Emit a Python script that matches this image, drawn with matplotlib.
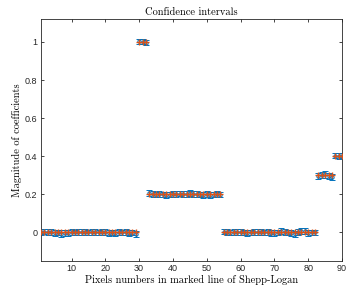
import numpy as np
import matplotlib
matplotlib.use("Agg")
import matplotlib.pyplot as plt

# pixel index along the marked line
pixels = np.arange(1, 91)

# true coefficient values
true_vals = [0, 0, 0, 0, 0, 0, 0, 0, 0, 0, 0, 0, 0, 0, 0, 0, 0, 0, 0, 0,
             0, 0, 0, 0, 0, 0, 0, 0, 0,
             1, 1, 1,
             0.2, 0.2, 0.2, 0.2, 0.2, 0.2, 0.2, 0.2, 0.2, 0.2, 0.2,
             0.2, 0.2, 0.2, 0.2, 0.2, 0.2, 0.2, 0.2, 0.2, 0.2, 0.2,
             0, 0, 0, 0, 0, 0, 0, 0, 0, 0, 0, 0, 0, 0,
             0, 0, 0, 0, 0, 0, 0, 0, 0, 0, 0, 0, 0, 0,
             0.3, 0.3, 0.3, 0.3, 0.3,
             0.4, 0.4, 0.4]

# estimated coefficients (centre of each interval)
estimates = [0.003, 0.004, 0.002, 0.001, -0.004, 0.000, -0.006, -0.002, -0.005, 0.003,
             0.000, 0.004, 0.002, 0.001, 0.000, 0.001, 0.002, 0.000, 0.001, 0.003,
             -0.002, 0.000, -0.004, 0.001, 0.000, 0.001, -0.002, -0.001, -0.008,
             1.003, 1.002, 0.996,
             0.206, 0.201, 0.199, 0.203, 0.200, 0.195, 0.199, 0.201, 0.203, 0.204, 0.202,
             0.200, 0.206, 0.201, 0.203, 0.199, 0.197, 0.200, 0.196, 0.198, 0.203, 0.199,
             0.004, 0.002, -0.001, 0.003, 0.002, 0.004, 0.001, -0.002, 0.000, 0.002,
             0.003, 0.003, 0.001, 0.004, -0.002, -0.003, 0.000, 0.008, 0.003, -0.001,
             -0.002, -0.007, 0.003, 0.006, 0.006, -0.002, 0.001, 0.000,
             0.298, 0.302, 0.305, 0.298, 0.292,
             0.402, 0.401, 0.403]

# half width of each interval
half_width = [0.015, 0.014, 0.015, 0.015, 0.016, 0.014, 0.017, 0.015, 0.016, 0.014,
              0.015, 0.015, 0.014, 0.015, 0.014, 0.015, 0.015, 0.014, 0.015, 0.015,
              0.015, 0.014, 0.016, 0.015, 0.014, 0.015, 0.015, 0.014, 0.017,
              0.013, 0.013, 0.014,
              0.015, 0.015, 0.014, 0.015, 0.014, 0.016, 0.015, 0.014, 0.015, 0.015, 0.014,
              0.015, 0.015, 0.016, 0.015, 0.014, 0.015, 0.015, 0.015, 0.014, 0.015, 0.015,
              0.014, 0.015, 0.015, 0.014, 0.015, 0.015, 0.014, 0.015, 0.015, 0.014,
              0.015, 0.015, 0.014, 0.015, 0.015, 0.016, 0.015, 0.016, 0.015, 0.015,
              0.016, 0.017, 0.015, 0.016, 0.015, 0.015, 0.014, 0.015,
              0.015, 0.016, 0.017, 0.015, 0.017,
              0.013, 0.014, 0.013]

blue = (0, 0.447, 0.741)
orange = (0.85, 0.325, 0.098)
axcol = (0.15, 0.15, 0.15)

fig = plt.figure(figsize=(3.48, 2.90), dpi=100)
ax = fig.add_axes([0.118, 0.10, 0.865, 0.834])

ax.errorbar(pixels, estimates, yerr=half_width, fmt='o', color=blue, ms=2.4,
            mfc='none', mew=0.7, elinewidth=1.0, capsize=2.2, capthick=1.0,
            zorder=2)
ax.plot(pixels, true_vals, '+', color=orange, ms=5, mew=1.0, zorder=3)

ax.set_xlim(1, 90)
ax.set_ylim(-0.15, 1.12)
ax.set_xticks([10, 20, 30, 40, 50, 60, 70, 80, 90])
ax.set_yticks([0, 0.2, 0.4, 0.6, 0.8, 1])
ax.set_yticklabels(['0', '0.2', '0.4', '0.6', '0.8', '1'])

ax.tick_params(direction='in', length=2.5, width=0.6, top=True, right=True,
               colors=axcol, labelsize=6.5, pad=2.5)
for lab in ax.get_xticklabels() + ax.get_yticklabels():
    lab.set_family('Liberation Sans')
for sp in ax.spines.values():
    sp.set_color(axcol)
    sp.set_linewidth(0.6)

ax.set_title('Confidence intervals', family='cmr10', fontsize=7.5, pad=3)
ax.set_xlabel('Pixels numbers in marked line of Shepp-Logan', family='cmr10',
              fontsize=7.5, labelpad=1)
ax.set_ylabel('Magnitude of coefficients', family='cmr10', fontsize=7.5, labelpad=2)

fig.savefig('out.png', dpi=100)
